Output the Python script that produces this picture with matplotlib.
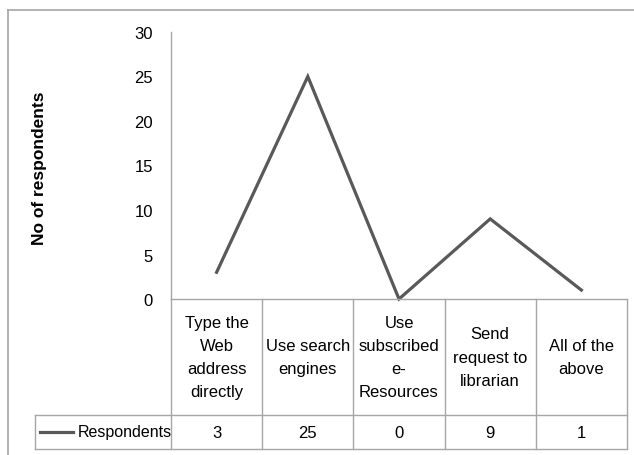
import matplotlib.pyplot as plt
import matplotlib.transforms as mtransforms
from matplotlib.lines import Line2D

# chart data
categories = ['Type the\nWeb\naddress\ndirectly', 'Use search\nengines',
              'Use\nsubscribed\ne-\nResources', 'Send\nrequest to\nlibrarian',
              'All of the\nabove']
respondents = [3, 25, 0, 9, 1]
series_name = 'Respondents'
y_ticks = [0, 5, 10, 15, 20, 25, 30]

plt.rcParams['font.family'] = ['Liberation Sans Narrow', 'Liberation Sans', 'DejaVu Sans']

W, H = 634, 456
fig = plt.figure(figsize=(W / 100, H / 100), dpi=100)

# figure border (only top and left visible)
border = '#a6a6a6'
fig.add_artist(Line2D([8 / W, 1.2], [1 - 11 / H, 1 - 11 / H], color=border, lw=1.2))
fig.add_artist(Line2D([8 / W, 8 / W], [-0.1, 1 - 11 / H], color=border, lw=1.2))

ax_left, ax_right, ax_top, ax_bot = 171, 627, 33, 300
ax = fig.add_axes([ax_left / W, 1 - ax_bot / H, (ax_right - ax_left) / W, (ax_bot - ax_top) / H])

x = list(range(len(respondents)))
ax.plot(x, respondents, color='#595959', lw=2.3, solid_joinstyle='miter', clip_on=False)

ax.set_xlim(-0.5, len(respondents) - 0.5)
ax.set_ylim(0, 30)
ax.set_yticks(y_ticks)
ax.tick_params(axis='y', length=0, labelsize=12, pad=13, colors='#000000')
ax.set_xticks([])
for s in ['top', 'right', 'bottom']:
    ax.spines[s].set_visible(False)
ax.spines['left'].set_color(border)
ax.spines['left'].set_linewidth(1)

fig.text(40 / W, 1 - 168 / H, 'No of respondents', rotation=90, ha='center', va='center',
         fontsize=12.5, fontweight='bold', family=['Liberation Sans', 'DejaVu Sans'])

# data table below the axis
grid = '#a6a6a6'
trans = mtransforms.blended_transform_factory(ax.transData, ax.transAxes)
ax_h = ax_bot - ax_top


def fy(py):
    return (ax_bot - py) / ax_h


head_top, head_bot, row_bot = fy(300), fy(416), fy(450)
unit = (ax_right - ax_left) / len(respondents)
legend_left = -0.5 + (35 - ax_left) / unit

kw = dict(color=grid, lw=1, transform=trans, clip_on=False)
ax.plot([-0.5, len(respondents) - 0.5], [head_top, head_top], **kw)
ax.plot([legend_left, len(respondents) - 0.5], [head_bot, head_bot], **kw)
ax.plot([legend_left, len(respondents) - 0.5], [row_bot, row_bot], **kw)
for i in range(len(respondents) + 1):
    ax.plot([i - 0.5, i - 0.5], [head_top, row_bot], **kw)
ax.plot([legend_left, legend_left], [head_bot, row_bot], **kw)

for i, (cat, val) in enumerate(zip(categories, respondents)):
    ax.text(i, (head_top + head_bot) / 2, cat, ha='center', va='center', fontsize=12,
            linespacing=1.68, transform=trans)
    ax.text(i, (head_bot + row_bot) / 2, str(val), ha='center', va='center', fontsize=12,
            transform=trans)

# legend key inside the table
row_mid = (head_bot + row_bot) / 2
ax.plot([-0.5 + (40 - ax_left) / unit, -0.5 + (73 - ax_left) / unit], [row_mid, row_mid],
        color='#595959', lw=2.3, transform=trans, clip_on=False)
ax.text(-0.5 + (78 - ax_left) / unit, row_mid, series_name, ha='left', va='center',
        fontsize=11.5, transform=trans)

fig.savefig('out.png', dpi=100)
